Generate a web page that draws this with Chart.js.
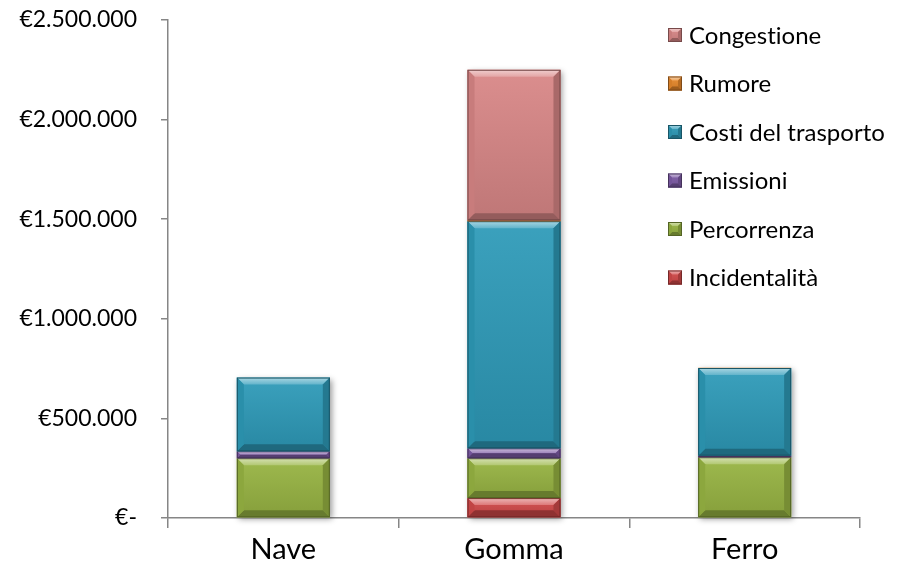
<!DOCTYPE html>
<html>
<head>
<meta charset="utf-8">
<script src="https://cdn.jsdelivr.net/npm/chart.js@4/dist/chart.umd.min.js"></script>
<style>
  html, body { margin: 0; padding: 0; background: #ffffff; }
  #wrap { width: 905px; height: 572px; }
</style>
</head>
<body>
<div id="wrap"><canvas id="chart" width="905" height="572"></canvas></div>
<script>
// Categories (transport modes)
const categories = ['Nave', 'Gomma', 'Ferro'];

// External cost components, in euro, stacked bottom to top
const incidentalita  = [0, 100000, 0];
const percorrenza    = [300000, 200000, 305000];
const emissioni      = [35000, 50000, 8000];
const costiTrasporto = [370000, 1140000, 440000];
const rumore         = [2000, 5000, 1000];
const congestione    = [0, 755000, 0];

const seriesLabels = ['Incidentalità', 'Percorrenza', 'Emissioni', 'Costi del trasporto', 'Rumore', 'Congestione'];
const seriesColors = ['#D24A4A', '#98B543', '#7D5BA6', '#2E9BB9', '#E8892B', '#D98787'];

// Y axis ticks
const yTickValues = [0, 500000, 1000000, 1500000, 2000000, 2500000];
const yTickLabels = ['€-', '€500.000', '€1.000.000', '€1.500.000', '€2.000.000', '€2.500.000'];

const FONT = 'Lato, "Open Sans", sans-serif';
const AXIS_COLOR = '#868686';

function hexToRgb(h) {
  h = h.replace('#', '');
  return [parseInt(h.slice(0, 2), 16), parseInt(h.slice(2, 4), 16), parseInt(h.slice(4, 6), 16)];
}
function mix(color, other, t) {
  const a = hexToRgb(color), b = hexToRgb(other);
  const c = a.map((v, i) => Math.round(v + (b[i] - v) * t));
  return 'rgb(' + c.join(',') + ')';
}
function poly(ctx, pts, fill) {
  ctx.beginPath();
  ctx.moveTo(pts[0][0], pts[0][1]);
  for (let i = 1; i < pts.length; i++) ctx.lineTo(pts[i][0], pts[i][1]);
  ctx.closePath();
  ctx.fillStyle = fill;
  ctx.fill();
}

// Bevelled rectangle used for bar segments and legend swatches
function bevelRect(ctx, L, T, R, B, color, bev) {
  const w = R - L, h = B - T;
  if (w <= 0 || h <= 0.5) return;
  const b = Math.min(bev, h / 2, w / 2);
  ctx.save();
  let g = ctx.createLinearGradient(0, T, 0, B);
  g.addColorStop(0, mix(color, '#ffffff', 0.06));
  g.addColorStop(1, mix(color, '#000000', 0.12));
  ctx.fillStyle = g;
  ctx.fillRect(L, T, w, h);
  // top facet
  g = ctx.createLinearGradient(0, T, 0, T + b);
  g.addColorStop(0, mix(color, '#ffffff', 0.6));
  g.addColorStop(1, mix(color, '#ffffff', 0.25));
  poly(ctx, [[L, T], [R, T], [R - b, T + b], [L + b, T + b]], g);
  // bottom facet
  poly(ctx, [[L, B], [R, B], [R - b, B - b], [L + b, B - b]], mix(color, '#000000', 0.32));
  // left facet
  poly(ctx, [[L, T], [L + b, T + b], [L + b, B - b], [L, B]], mix(color, '#000000', 0.08));
  // right facet
  poly(ctx, [[R, T], [R - b, T + b], [R - b, B - b], [R, B]], mix(color, '#000000', 0.22));
  // outline
  ctx.strokeStyle = mix(color, '#000000', 0.45);
  ctx.lineWidth = 1;
  ctx.strokeRect(L + 0.5, T + 0.5, w - 1, h - 1);
  ctx.restore();
}

// Soft drop shadow behind each stacked column
const shadowPlugin = {
  id: 'columnShadow',
  beforeDatasetsDraw(chart) {
    const ctx = chart.ctx;
    const metas = chart.getSortedVisibleDatasetMetas();
    categories.forEach((_, i) => {
      let top = Infinity, bottom = -Infinity, x = 0, w = 0;
      metas.forEach(m => {
        const el = m.data[i];
        if (!el) return;
        const p = el.getProps(['x', 'y', 'base', 'width'], true);
        if (Math.abs(p.base - p.y) < 0.5) return;
        top = Math.min(top, p.y, p.base);
        bottom = Math.max(bottom, p.y, p.base);
        x = p.x; w = p.width;
      });
      if (!isFinite(top)) return;
      ctx.save();
      ctx.shadowColor = 'rgba(0,0,0,0.4)';
      ctx.shadowBlur = 6;
      ctx.shadowOffsetX = 2;
      ctx.shadowOffsetY = 2;
      ctx.fillStyle = '#ffffff';
      ctx.fillRect(x - w / 2, top, w, bottom - top);
      ctx.restore();
    });
  }
};

// Bevel finish painted over every bar segment
const bevelPlugin = {
  id: 'bevelBars',
  afterDatasetsDraw(chart) {
    const ctx = chart.ctx;
    chart.getSortedVisibleDatasetMetas().forEach(m => {
      const color = chart.data.datasets[m.index].backgroundColor;
      m.data.forEach(el => {
        const p = el.getProps(['x', 'y', 'base', 'width'], true);
        const T = Math.min(p.y, p.base), B = Math.max(p.y, p.base);
        bevelRect(ctx, p.x - p.width / 2, T, p.x + p.width / 2, B, color, 7);
      });
    });
  }
};

// Legend listed top-down in reverse stacking order
const legendPlugin = {
  id: 'sideLegend',
  afterDraw(chart) {
    const ctx = chart.ctx;
    const ds = chart.data.datasets;
    const x0 = 668, y0 = 35, step = 48.5, box = 14;
    ctx.save();
    ctx.font = '24px ' + FONT;
    ctx.letterSpacing = '0.01px';
    ctx.textBaseline = 'middle';
    for (let k = 0; k < ds.length; k++) {
      const d = ds[ds.length - 1 - k];
      const cy = y0 + k * step;
      bevelRect(ctx, x0, cy - box / 2, x0 + box, cy + box / 2, d.backgroundColor, 4);
      ctx.fillStyle = '#000000';
      ctx.fillText(d.label, x0 + box + 7, cy + 1);
    }
    ctx.restore();
  }
};

const seriesValues = [incidentalita, percorrenza, emissioni, costiTrasporto, rumore, congestione];

new Chart(document.getElementById('chart'), {
  type: 'bar',
  data: {
    labels: categories,
    datasets: seriesLabels.map((label, i) => ({
      label: label,
      data: seriesValues[i],
      backgroundColor: seriesColors[i],
      borderWidth: 0,
      barPercentage: 0.403,
      categoryPercentage: 1.0
    }))
  },
  options: {
    responsive: false,
    animation: false,
    devicePixelRatio: 1,
    layout: { padding: { top: 20, right: 45, left: 0, bottom: 0 } },
    plugins: {
      legend: { display: false },
      tooltip: { enabled: false }
    },
    scales: {
      x: {
        stacked: true,
        grid: {
          offset: true,
          drawOnChartArea: false,
          drawTicks: true,
          tickLength: 10,
          color: AXIS_COLOR,
          lineWidth: 1.5
        },
        border: { color: AXIS_COLOR, width: 1.5 },
        ticks: {
          color: '#000000',
          font: { family: FONT, size: 29 },
          padding: 4,
          maxRotation: 0
        },
        afterFit(scale) { scale.height = 54; }
      },
      y: {
        stacked: true,
        min: 0,
        max: 2500000,
        afterBuildTicks(scale) { scale.ticks = yTickValues.map(v => ({ value: v })); },
        grid: {
          drawOnChartArea: false,
          drawTicks: true,
          tickLength: 7,
          color: AXIS_COLOR,
          lineWidth: 1.5
        },
        border: { color: AXIS_COLOR, width: 1.5 },
        ticks: {
          color: '#000000',
          font: { family: FONT, size: 23 },
          padding: 24,
          callback(value) {
            const i = yTickValues.indexOf(value);
            return i >= 0 ? yTickLabels[i] : '';
          }
        },
        afterFit(scale) {
          scale.width = 168;
          scale.paddingTop = 0;
          scale.paddingBottom = 0;
        }
      }
    }
  },
  plugins: [shadowPlugin, bevelPlugin, legendPlugin]
});
</script>
</body>
</html>
